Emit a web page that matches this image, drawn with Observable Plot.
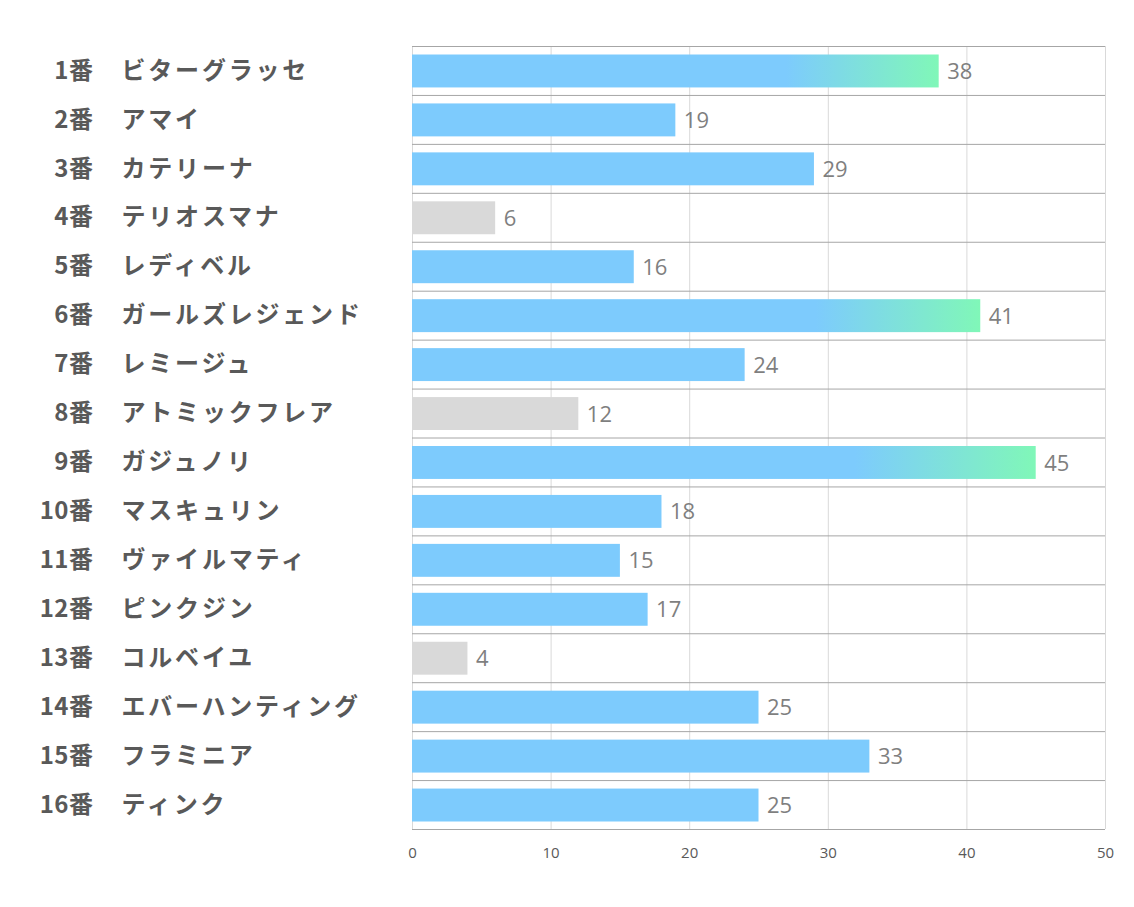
<!DOCTYPE html>
<html>
<head>
<meta charset="utf-8">
<script src="https://cdn.jsdelivr.net/npm/d3@7"></script>
<script src="https://cdn.jsdelivr.net/npm/@observablehq/plot@0.6"></script>
<style>
  html, body { margin: 0; padding: 0; background: #fff; }
  #chart { width: 1134px; height: 907px; }
</style>
</head>
<body>
<div id="chart"></div>
<script>
const numbers = ["1番","2番","3番","4番","5番","6番","7番","8番","9番","10番","11番","12番","13番","14番","15番","16番"];
const names = ["ビターグラッセ","アマイ","カテリーナ","テリオスマナ","レディベル","ガールズレジェンド","レミージュ","アトミックフレア","ガジュノリ","マスキュリン","ヴァイルマティ","ピンクジン","コルベイユ","エバーハンティング","フラミニア","ティンク"];
const values = [38,19,29,6,16,41,24,12,45,18,15,17,4,25,33,25];
const xTicks = [0,10,20,30,40,50];

const data = numbers.map((n, i) => ({key: n, num: n, name: names[i], value: values[i]}));
const top3 = data.filter(d => d.value >= 38);
const low = data.filter(d => d.value <= 12);
const mid = data.filter(d => d.value > 12 && d.value < 38);

const W = 1134, H = 907, mT = 46, mB = 78;
const band = (H - mT - mB) / numbers.length;

const defs = () => {
  const g = d3.create("svg:defs");
  const lg = g.append("linearGradient").attr("id", "barGrad").attr("x1", 0).attr("x2", 1).attr("y1", 0).attr("y2", 0);
  lg.append("stop").attr("offset", "0").attr("stop-color", "#7dcbfd");
  lg.append("stop").attr("offset", "0.71").attr("stop-color", "#7dcbfd");
  lg.append("stop").attr("offset", "1").attr("stop-color", "#80f7b8");
  return g.node();
};

const chart = Plot.plot({
  width: W,
  height: H,
  marginLeft: 412,
  marginRight: 29,
  marginTop: mT,
  marginBottom: mB,
  style: {fontFamily: "'Noto Sans CJK JP', 'Noto Sans', sans-serif", background: "#fff"},
  x: {domain: [0, 50], ticks: xTicks, label: null},
  y: {domain: numbers, padding: 0, round: false, label: null},
  marks: [
    defs,
    Plot.gridX(xTicks, {stroke: "#d9d9d9", strokeOpacity: 1}),
    Plot.ruleY(data, {y: "key", dy: -band / 2, stroke: "#a6a6a6"}),
    Plot.ruleY([numbers[numbers.length - 1]], {dy: band / 2, stroke: "#a6a6a6"}),
    Plot.barX(mid, {y: "key", x: "value", fill: "#7dcbfd", insetTop: 8.5, insetBottom: 7.5}),
    Plot.barX(low, {y: "key", x: "value", fill: "#d9d9d9", insetTop: 8.5, insetBottom: 7.5}),
    Plot.barX(top3, {y: "key", x: "value", fill: "url(#barGrad)", insetTop: 8.5, insetBottom: 7.5}),
    Plot.text(data, {y: "key", x: "value", text: d => String(d.value), dx: 8, dy: 1, textAnchor: "start", fill: "#7f7f7f", fontSize: 22, fontFamily: "'Open Sans', 'Noto Sans', sans-serif"}),
    Plot.text(data, {y: "key", frameAnchor: "left", text: "num", dx: -319, textAnchor: "end", fill: "#595959", fontSize: 24, fontWeight: "bold"}),
    Plot.text(data, {y: "key", frameAnchor: "left", text: "name", dx: -291, textAnchor: "start", fill: "#595959", fontSize: 24, fontWeight: "bold"}),
    Plot.axisX({ticks: xTicks, tickSize: 0, tickPadding: 18, fontSize: 15, fill: "#595959", label: null, fontFamily: "'Open Sans', 'Noto Sans', sans-serif"}),
    Plot.axisY({ticks: [], label: null, tickSize: 0})
  ]
});
const nameSet = new Set(names);
const numSet = new Set(numbers);
d3.select(chart).selectAll("text").each(function() {
  const t = this.textContent;
  if (nameSet.has(t)) this.setAttribute("letter-spacing", "2.8");
  else if (numSet.has(t)) this.setAttribute("letter-spacing", "0.5");
});
document.getElementById("chart").appendChild(chart);
</script>
</body>
</html>
